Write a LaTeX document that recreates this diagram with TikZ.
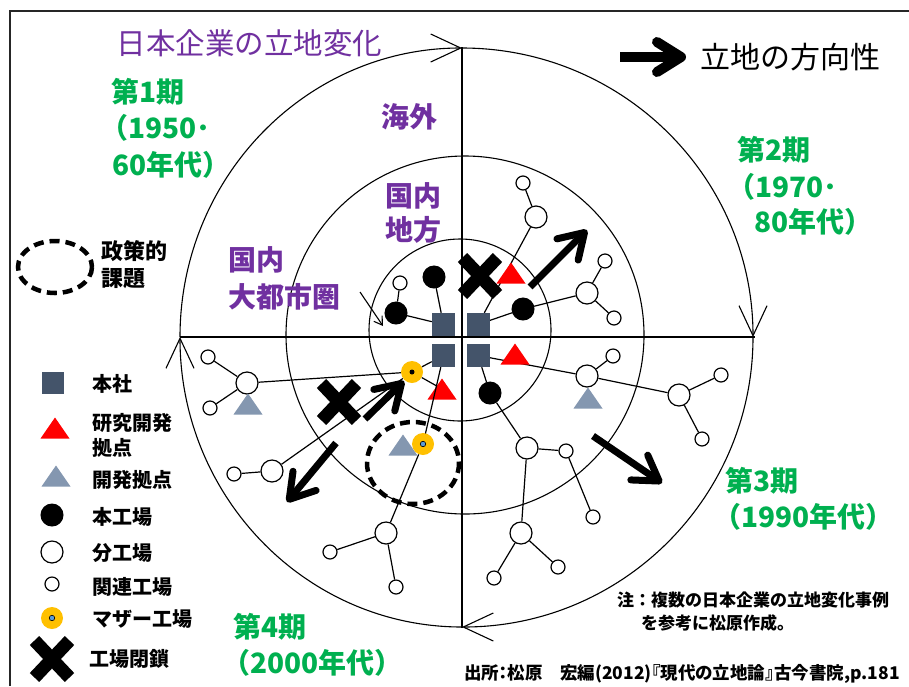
\documentclass[tikz,border=0pt]{standalone}
\usepackage{fontspec}
\setmainfont{Noto Sans CJK JP}
\usetikzlibrary{arrows.meta,shapes.misc}
\definecolor{purp}{HTML}{7030A0}
\definecolor{grn}{HTML}{00B050}
\definecolor{sqc}{HTML}{44546A}
\definecolor{tgray}{HTML}{8497B0}
\definecolor{ylw}{HTML}{FFC000}
\definecolor{dotblue}{HTML}{5B9BD5}
\pgfdeclarelayer{bg}
\pgfsetlayers{bg,main}
\tikzset{
  sq/.style={rectangle, fill=sqc, minimum size=23pt, inner sep=0pt},
  bf/.style={circle, fill=black, draw=black, line width=1pt, minimum size=22pt, inner sep=0pt},
  wf/.style={circle, fill=white, draw=black, line width=1.2pt, minimum size=22pt, inner sep=0pt},
  sf/.style={circle, fill=white, draw=black, line width=1.2pt, minimum size=14pt, inner sep=0pt},
  mf/.style={circle, fill=ylw, minimum size=22pt, inner sep=0pt},
  mdotk/.style={circle, fill=black, minimum size=5pt, inner sep=0pt},
  mdotb/.style={circle, fill=dotblue, draw=black, line width=0.6pt, minimum size=5.5pt, inner sep=0pt},
  xm/.style={cross out, draw=black, line width=13pt, minimum width=22pt, minimum height=24pt, inner sep=0pt},
  conn/.style={draw=black, line width=1.2pt},
  bigarrow/.style={line width=7pt, -{Straight Barb[round, length=24pt, width=30pt]}},
  arcline/.style={line width=1.1pt, -{Straight Barb[length=30pt, width=28pt]}},
  policy/.style={draw=black, line width=4.5pt, dash pattern=on 10pt off 6pt},
  tri/.pic={\fill[#1] (-14.5,10.5) -- (0,-10.5) -- (14.5,10.5) -- cycle; \coordinate (-c) at (0,0);},
  lbl/.style={anchor=base west, inner sep=0pt, outer sep=0pt},
  grnlbl/.style={lbl, text=grn, font=\fontsize{28}{33}\selectfont\bfseries},
  purlbl/.style={lbl, text=purp, font=\fontsize{28}{34}\selectfont\bfseries},
  lgt/.style={lbl, font=\fontsize{20}{24}\selectfont\bfseries},
  notet/.style={lbl, font=\fontsize{17}{20}\selectfont\bfseries},
}
\begin{document}
\begin{tikzpicture}[x=1pt,y=-1pt]
\useasboundingbox (0,0) rectangle (909,686);

% ---------- titles ----------
\node[lbl, text=purp, font=\fontsize{29.5}{34}\selectfont] (title) at (116.5,54.7) {日本企業の立地変化};
\coordinate (la1) at (620,57);
\coordinate (la2) at (686,57);
\node[lbl, font=\fontsize{30}{34}\selectfont] (dirtxt) at (700.5,68.4) {立地の方向性};

% ---------- period labels ----------
\node[grnlbl] (g1a) at (111.5,102.5) {第1期};
\node[grnlbl] (g1b) at (100,138) {（1950･};
\node[grnlbl] (g1c) at (112,175.5) {60年代）};
\node[grnlbl] (g2a) at (737.6,160.5) {第2期};
\node[grnlbl] (g2b) at (727,197.5) {（1970･};
\node[grnlbl] (g2c) at (754,232.5) {80年代）};
\node[grnlbl] (g3a) at (725.6,491.5) {第3期};
\node[grnlbl] (g3b) at (713,527.5) {（1990年代）};
\node[grnlbl] (g4a) at (233.6,637.5) {第4期};
\node[grnlbl] (g4b) at (222,673.5) {（2000年代）};

% ---------- zone labels ----------
\node[purlbl] (z1) at (381.6,127.6) {海外};
\node[purlbl] (z2a) at (385.6,206.6) {国内};
\node[purlbl] (z2b) at (385.6,240.6) {地方};
\node[purlbl] (z3a) at (228.6,270.6) {国内};
\node[purlbl] (z3b) at (228.6,307.6) {大都市圏};
\coordinate (sa1) at (360,292);
\coordinate (sa2) at (383,326);

% ---------- policy legend ----------
\draw[policy] (55,267) ellipse[x radius=37, y radius=26];
\node[lbl, font=\fontsize{22}{26}\selectfont\bfseries] (pol1) at (101,259.4) {政策的};
\node[lbl, font=\fontsize{22}{26}\selectfont\bfseries] (pol2) at (101,286.4) {課題};

% ---------- legend ----------
\node[sq, minimum size=22pt] (lsq) at (53,383) {};
\pic (lt1) at (55,428) {tri=red};
\pic (lt2) at (56,476) {tri=tgray};
\node[bf] (lbf) at (52,515) {};
\node[wf] (lwf) at (52,552) {};
\node[sf] (lsf) at (52,584) {};
\node[mf] (lmf) at (52,618) {};
\node[mdotb] (lmd) at (52,618) {};
\node[xm] (lxm) at (52,659) {};
\node[lgt] (lt_a) at (92,391.6) {本社};
\node[lgt] (lt_b) at (92,430.6) {研究開発};
\node[lgt] (lt_c) at (92,455.6) {拠点};
\node[lgt] (lt_d) at (92,487.6) {開発拠点};
\node[lgt] (lt_e) at (92,524.6) {本工場};
\node[lgt] (lt_f) at (92,560.6) {分工場};
\node[lgt] (lt_g) at (92,594.6) {関連工場};
\node[lgt] (lt_h) at (92,626.6) {マザー工場};
\node[lgt] (lt_i) at (89,666.6) {工場閉鎖};

% ---------- notes ----------
\node[notet] (n1) at (617,606.5) {注：複数の日本企業の立地変化事例};
\node[notet] (n2) at (641,629.5) {を参考に松原作成。};
\node[notet, font=\fontsize{17.5}{20}\selectfont\bfseries\addfontfeatures{RawFeature=+palt}] (src) at (464,679) {出所：松原　宏編(2012)『現代の立地論』古今書院,p.181};

% ---------- head offices ----------
\node[sq] (sqTL) at (443.5,324.5) {};
\node[sq] (sqTR) at (478,324.5) {};
\node[sq] (sqBL) at (443.5,355.5) {};
\node[sq] (sqBR) at (478,355.5) {};

% ---------- period 1 ----------
\node[bf] (p1a) at (434,277) {};
\node[bf] (p1b) at (396,313) {};
\node[sf] (p1s) at (400,283) {};

% ---------- period 2 ----------
\node[xm] (x2) at (480,276) {};
\pic (t2) at (511,273) {tri=red};
\node[bf] (p2b) at (523,309) {};
\node[wf] (p2w1) at (587,293) {};
\node[sf] (p2s1) at (605,261) {};
\node[sf] (p2s2) at (614,318) {};
\node[wf] (p2w2) at (536,217) {};
\node[sf] (p2s3) at (523,183) {};

% ---------- period 3 ----------
\pic (t3) at (515,354) {tri=red};
\node[wf] (p3w1) at (587,376) {};
\node[sf] (p3s1) at (613,356) {};
\pic (t3g) at (588,398) {tri=tgray};
\node[wf] (p3w2) at (679,395) {};
\node[sf] (p3s2) at (721,375) {};
\node[sf] (p3s3) at (702,439) {};
\node[bf] (p3b) at (490,393) {};
\node[wf] (p3w3) at (527,448) {};
\node[sf] (p3s4) at (566,451) {};
\node[sf] (p3s5) at (593,517) {};
\node[wf] (p3w4) at (521,533) {};
\node[sf] (p3s6) at (494,578) {};
\node[sf] (p3s7) at (558,567) {};

% ---------- period 4 ----------
\node[mf] (m1) at (412,372) {};
\node[mdotk] (m1d) at (412,372) {};
\pic (t4) at (442,389) {tri=red};
\node[wf] (p4w1) at (247,383) {};
\node[sf] (p4s1) at (208,357) {};
\node[sf] (p4s2) at (210,408) {};
\pic (t4g) at (248,404) {tri=tgray};
\node[wf] (p4w2) at (272,471) {};
\node[sf] (p4s3) at (234,474) {};
\node[wf] (p4w3) at (386,533) {};
\node[sf] (p4s4) at (330,552) {};
\node[sf] (p4s5) at (396,587) {};
\node[xm] (x4) at (339,402) {};
\pic (t4p) at (403,445) {tri=tgray};
\coordinate (m2c) at (423,444);
\draw[conn] (sqBL) -- (m2c);
\node[mf] (m2) at (m2c) {};
\node[mdotb] (m2d) at (m2c) {};
\draw[policy] (413,463) ellipse[x radius=46, y radius=41];

% ---------- direction arrows ----------
\coordinate (a2s) at (530,287); \coordinate (a2e) at (587,230);
\coordinate (a3s) at (593,436); \coordinate (a3e) at (662,483);
\coordinate (a4s) at (365,419); \coordinate (a4e) at (404,381);
\coordinate (a5s) at (336,443); \coordinate (a5e) at (287,502);
\draw[bigarrow] (a2s) -- (a2e);
\draw[bigarrow] (a3s) -- (a3e);
\draw[bigarrow] (a4s) -- (a4e);
\draw[bigarrow] (a5s) -- (a5e);
\draw[line width=10pt, -{Straight Barb[round, length=24pt, width=30pt]}] (la1) -- (la2);
\draw[line width=1.1pt, -{Straight Barb[length=8pt, width=10pt]}] (sa1) -- (sa2);

% ---------- background layer ----------
\begin{pgfonlayer}{bg}
\fill[white] (0,0) rectangle (909,686);
\draw[line width=1.5pt, black!85] (10,686) -- (10,11) -- (909,11);
\draw[line width=1.1pt] (460,330) circle[radius=91];
\draw[line width=1.1pt] (465,335) circle[radius=179];
\draw[arcline] (180,337) arc[start angle=180, end angle=270, x radius=282, y radius=289];
\draw[arcline] (462,48) arc[start angle=270, end angle=360, x radius=291, y radius=289];
\draw[arcline] (753,337) arc[start angle=0, end angle=90, x radius=291, y radius=290];
\draw[arcline] (462,627) arc[start angle=90, end angle=180, x radius=282, y radius=290];
\coordinate (axT) at (462,47); \coordinate (axB) at (462,628);
\coordinate (axL) at (180,337); \coordinate (axR) at (755,337);
\draw[line width=2.6pt] (axT) -- (axB);
\draw[line width=2.6pt] (axL) -- (axR);
% period 1
\draw[conn] (sqTL) -- (p1a);
\draw[conn] (sqTL) -- (p1b);
\draw[conn] (p1b) -- (p1s);
% period 2
\draw[conn] (sqTR) -- (p2w2);
\draw[conn] (p2w2) -- (p2s3);
\draw[conn] (sqTR) -- (p2b);
\draw[conn] (p2b) -- (p2w1);
\draw[conn] (p2w1) -- (p2s1);
\draw[conn] (p2w1) -- (p2s2);
% period 3
\draw[conn] (sqBR) -- (p3w1);
\draw[conn] (p3w1) -- (p3s1);
\draw[conn] (p3w1) -- (p3w2);
\draw[conn] (p3w2) -- (p3s2);
\draw[conn] (p3w2) -- (p3s3);
\draw[conn] (sqBR) -- (p3b);
\draw[conn] (p3b) -- (p3w3);
\draw[conn] (p3w3) -- (p3s4);
\draw[conn] (p3s4) -- (p3s5);
\draw[conn] (p3w3) -- (p3w4);
\draw[conn] (p3w4) -- (p3s6);
\draw[conn] (p3w4) -- (p3s7);
% period 4
\draw[conn] (sqBL) -- (m1);
\draw[conn] (m1) -- (t4-c);
\draw[conn] (m1) -- (p4w1);
\draw[conn] (p4w1) -- (p4s1);
\draw[conn] (p4w1) -- (p4s2);
\draw[conn] (m1) -- (p4w2);
\draw[conn] (p4w2) -- (p4s3);
\draw[conn] (m2) -- (p4w3);
\draw[conn] (p4w3) -- (p4s4);
\draw[conn] (p4w3) -- (p4s5);
\end{pgfonlayer}
\end{tikzpicture}
\end{document}
